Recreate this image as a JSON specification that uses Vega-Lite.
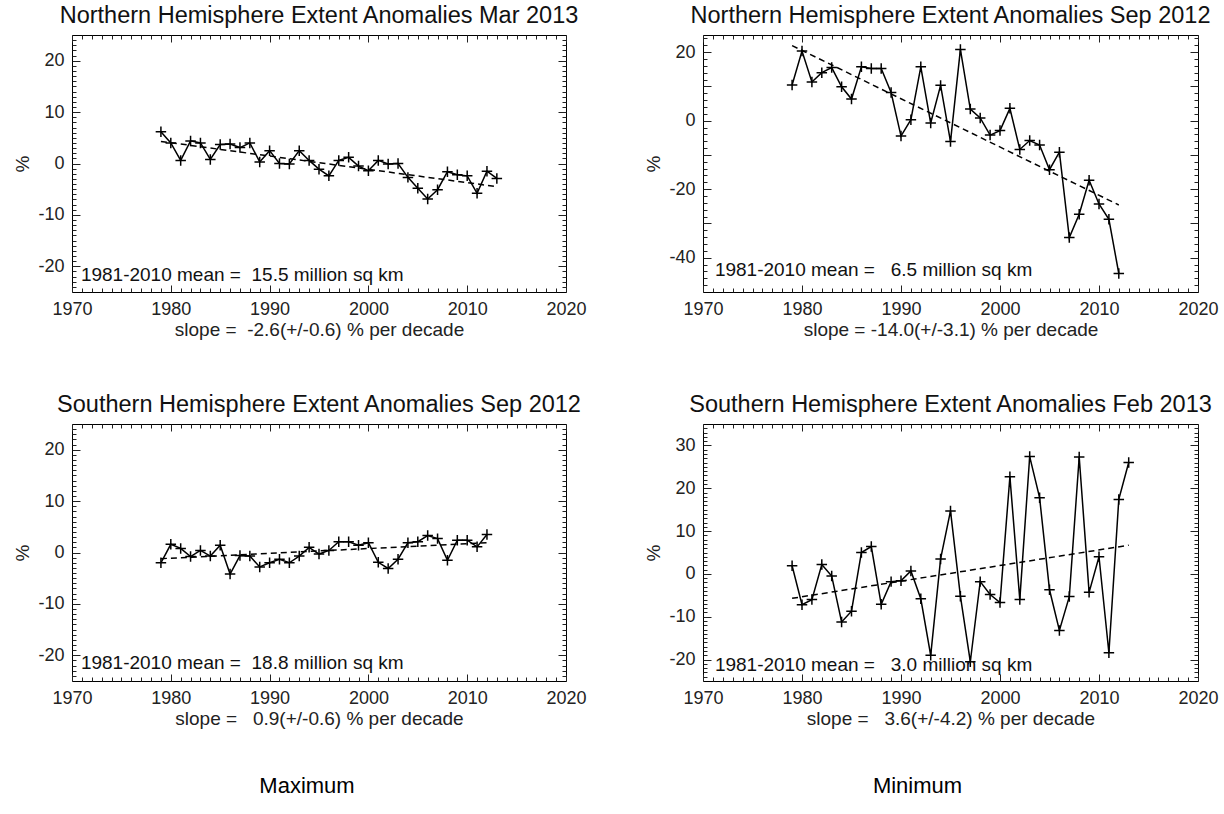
{
  "$schema": "https://vega.github.io/schema/vega-lite/v6.json",
  "background": "white",
  "padding": {"left": 13, "top": 3, "right": 5, "bottom": 5},
  "datasets": {
    "tl": [
      {"year": 1979, "pct": 6.2}, {"year": 1980, "pct": 4.0}, {"year": 1981, "pct": 0.6}, {"year": 1982, "pct": 4.4},
      {"year": 1983, "pct": 4.0}, {"year": 1984, "pct": 0.8}, {"year": 1985, "pct": 3.7}, {"year": 1986, "pct": 3.8},
      {"year": 1987, "pct": 3.1}, {"year": 1988, "pct": 4.0}, {"year": 1989, "pct": 0.3}, {"year": 1990, "pct": 2.5},
      {"year": 1991, "pct": 0.0}, {"year": 1992, "pct": -0.1}, {"year": 1993, "pct": 2.5}, {"year": 1994, "pct": 0.6},
      {"year": 1995, "pct": -1.1}, {"year": 1996, "pct": -2.4}, {"year": 1997, "pct": 0.6}, {"year": 1998, "pct": 1.2},
      {"year": 1999, "pct": -0.5}, {"year": 2000, "pct": -1.4}, {"year": 2001, "pct": 0.6}, {"year": 2002, "pct": -0.1},
      {"year": 2003, "pct": 0.0}, {"year": 2004, "pct": -2.7}, {"year": 2005, "pct": -4.8}, {"year": 2006, "pct": -6.9},
      {"year": 2007, "pct": -5.1}, {"year": 2008, "pct": -1.6}, {"year": 2009, "pct": -2.2}, {"year": 2010, "pct": -2.4},
      {"year": 2011, "pct": -5.8}, {"year": 2012, "pct": -1.5}, {"year": 2013, "pct": -2.9}
    ],
    "tl_trend": [{"year": 1979, "pct": 4.3}, {"year": 2013, "pct": -4.5}],
    "tl_note": [{"year": 1970.9, "pct": -21.7, "label": "1981-2010 mean = \u00a015.5 million sq km"}],
    "tr": [
      {"year": 1979, "pct": 10.4}, {"year": 1980, "pct": 20.3}, {"year": 1981, "pct": 11.3}, {"year": 1982, "pct": 14.0},
      {"year": 1983, "pct": 15.5}, {"year": 1984, "pct": 9.9}, {"year": 1985, "pct": 6.3}, {"year": 1986, "pct": 15.7},
      {"year": 1987, "pct": 15.2}, {"year": 1988, "pct": 15.2}, {"year": 1989, "pct": 8.2}, {"year": 1990, "pct": -4.5},
      {"year": 1991, "pct": 0.3}, {"year": 1992, "pct": 15.7}, {"year": 1993, "pct": -0.7}, {"year": 1994, "pct": 10.3},
      {"year": 1995, "pct": -6.1}, {"year": 1996, "pct": 20.8}, {"year": 1997, "pct": 3.4}, {"year": 1998, "pct": 0.8},
      {"year": 1999, "pct": -4.2}, {"year": 2000, "pct": -2.9}, {"year": 2001, "pct": 3.6}, {"year": 2002, "pct": -8.4},
      {"year": 2003, "pct": -5.8}, {"year": 2004, "pct": -7.1}, {"year": 2005, "pct": -14.3}, {"year": 2006, "pct": -9.2},
      {"year": 2007, "pct": -34.1}, {"year": 2008, "pct": -27.3}, {"year": 2009, "pct": -17.4}, {"year": 2010, "pct": -24.3},
      {"year": 2011, "pct": -28.8}, {"year": 2012, "pct": -44.6}
    ],
    "tr_trend": [{"year": 1979, "pct": 21.9}, {"year": 2012, "pct": -24.6}],
    "tr_note": [{"year": 1971.2, "pct": -43.6, "label": "1981-2010 mean = \u00a0\u00a06.5 million sq km"}],
    "bl": [
      {"year": 1979, "pct": -2.0}, {"year": 1980, "pct": 1.6}, {"year": 1981, "pct": 0.8}, {"year": 1982, "pct": -0.8},
      {"year": 1983, "pct": 0.4}, {"year": 1984, "pct": -0.7}, {"year": 1985, "pct": 1.4}, {"year": 1986, "pct": -4.2},
      {"year": 1987, "pct": -0.6}, {"year": 1988, "pct": -0.7}, {"year": 1989, "pct": -2.8}, {"year": 1990, "pct": -2.0},
      {"year": 1991, "pct": -1.3}, {"year": 1992, "pct": -2.0}, {"year": 1993, "pct": -0.7}, {"year": 1994, "pct": 1.0},
      {"year": 1995, "pct": -0.3}, {"year": 1996, "pct": 0.4}, {"year": 1997, "pct": 2.1}, {"year": 1998, "pct": 2.1},
      {"year": 1999, "pct": 1.4}, {"year": 2000, "pct": 1.9}, {"year": 2001, "pct": -1.9}, {"year": 2002, "pct": -3.1},
      {"year": 2003, "pct": -1.3}, {"year": 2004, "pct": 1.9}, {"year": 2005, "pct": 2.1}, {"year": 2006, "pct": 3.3},
      {"year": 2007, "pct": 2.7}, {"year": 2008, "pct": -1.5}, {"year": 2009, "pct": 2.4}, {"year": 2010, "pct": 2.4},
      {"year": 2011, "pct": 1.1}, {"year": 2012, "pct": 3.5}
    ],
    "bl_trend": [{"year": 1979, "pct": -1.2}, {"year": 2012, "pct": 1.9}],
    "bl_note": [{"year": 1970.9, "pct": -21.5, "label": "1981-2010 mean = \u00a018.8 million sq km"}],
    "br": [
      {"year": 1979, "pct": 1.9}, {"year": 1980, "pct": -7.2}, {"year": 1981, "pct": -6.0}, {"year": 1982, "pct": 2.2},
      {"year": 1983, "pct": -0.5}, {"year": 1984, "pct": -11.2}, {"year": 1985, "pct": -8.7}, {"year": 1986, "pct": 5.0},
      {"year": 1987, "pct": 6.4}, {"year": 1988, "pct": -7.1}, {"year": 1989, "pct": -1.8}, {"year": 1990, "pct": -1.6},
      {"year": 1991, "pct": 0.7}, {"year": 1992, "pct": -5.8}, {"year": 1993, "pct": -19.0}, {"year": 1994, "pct": 3.5},
      {"year": 1995, "pct": 14.7}, {"year": 1996, "pct": -5.2}, {"year": 1997, "pct": -20.5}, {"year": 1998, "pct": -1.8},
      {"year": 1999, "pct": -4.8}, {"year": 2000, "pct": -6.7}, {"year": 2001, "pct": 22.7}, {"year": 2002, "pct": -6.0},
      {"year": 2003, "pct": 27.4}, {"year": 2004, "pct": 17.8}, {"year": 2005, "pct": -3.7}, {"year": 2006, "pct": -13.2},
      {"year": 2007, "pct": -5.3}, {"year": 2008, "pct": 27.3}, {"year": 2009, "pct": -4.3}, {"year": 2010, "pct": 4.0},
      {"year": 2011, "pct": -18.4}, {"year": 2012, "pct": 17.4}, {"year": 2013, "pct": 26.0}
    ],
    "br_trend": [{"year": 1979, "pct": -5.7}, {"year": 2013, "pct": 6.7}],
    "br_note": [{"year": 1971.2, "pct": -21.2, "label": "1981-2010 mean = \u00a0\u00a03.0 million sq km"}]
  },
  "hconcat": [
    {
      "title": {"text": "Maximum", "orient": "bottom", "anchor": "middle", "fontSize": 22, "offset": 47, "dx": 7, "color": "#000"},
      "spacing": 132,
      "bounds": "flush",
      "vconcat": [
        {
          "width": 494, "height": 257,
          "title": {"text": "Northern Hemisphere Extent Anomalies Mar 2013", "anchor": "middle"},
          "layer": [
            {"data": {"name": "tl"}, "mark": {"type": "line", "color": "black", "strokeWidth": 1.5},
             "encoding": {
               "x": {"field": "year", "type": "quantitative", "scale": {"domain": [1970, 2020], "nice": false, "zero": false},
                     "axis": {"orient": "bottom", "values": [1970, 1980, 1990, 2000, 2010, 2020], "format": "d", "tickSize": -7, "labelPadding": 15, "labelFlush": false, "labelOverlap": false, "title": "slope = \u00a0-2.6(+/-0.6) % per decade", "titlePadding": 2}},
               "y": {"field": "pct", "type": "quantitative", "scale": {"domain": [-25, 25], "nice": false, "zero": false},
                     "axis": {"orient": "left", "values": [-20, -10, 0, 10, 20], "labelExpr": "replace(datum.label, '\u2212', '-')", "tickSize": -8, "labelPadding": 16, "labelFlush": false, "labelOverlap": false, "title": "%", "titlePadding": 5}}}},
            {"data": {"name": "tl"}, "mark": {"type": "point", "shape": "M-1,0L1,0M0,-1L0,1", "filled": false, "color": "black", "size": 110, "strokeWidth": 1.5, "opacity": 1},
             "encoding": {
               "x": {"field": "year", "type": "quantitative", "axis": {"orient": "top", "values": [1970, 1980, 1990, 2000, 2010, 2020], "tickSize": -7, "labels": false, "title": null}},
               "y": {"field": "pct", "type": "quantitative", "axis": {"orient": "right", "values": [-20, -10, 0, 10, 20], "tickSize": -8, "labels": false, "title": null}}}},
            {"data": {"name": "tl_trend"}, "mark": {"type": "line", "color": "black", "strokeWidth": 1.5, "strokeDash": [6, 4]},
             "encoding": {
               "x": {"field": "year", "type": "quantitative", "axis": {"orient": "bottom", "values": [1971,1972,1973,1974,1975,1976,1977,1978,1979,1981,1982,1983,1984,1985,1986,1987,1988,1989,1991,1992,1993,1994,1995,1996,1997,1998,1999,2001,2002,2003,2004,2005,2006,2007,2008,2009,2011,2012,2013,2014,2015,2016,2017,2018,2019], "tickSize": -4, "labels": false, "title": null}},
               "y": {"field": "pct", "type": "quantitative", "axis": {"orient": "left", "values": [-24,-23,-22,-21,-19,-18,-17,-16,-15,-14,-13,-12,-11,-9,-8,-7,-6,-5,-4,-3,-2,-1,1,2,3,4,5,6,7,8,9,11,12,13,14,15,16,17,18,19,21,22,23,24], "tickSize": -4, "labels": false, "title": null}}}},
            {"data": {"name": "tl_note"}, "mark": {"type": "text", "align": "left", "baseline": "middle", "fontSize": 19, "color": "#111"},
             "encoding": {
               "x": {"field": "year", "type": "quantitative", "axis": {"orient": "top", "values": [1971,1972,1973,1974,1975,1976,1977,1978,1979,1981,1982,1983,1984,1985,1986,1987,1988,1989,1991,1992,1993,1994,1995,1996,1997,1998,1999,2001,2002,2003,2004,2005,2006,2007,2008,2009,2011,2012,2013,2014,2015,2016,2017,2018,2019], "tickSize": -4, "labels": false, "title": null}},
               "y": {"field": "pct", "type": "quantitative", "axis": {"orient": "right", "values": [-24,-23,-22,-21,-19,-18,-17,-16,-15,-14,-13,-12,-11,-9,-8,-7,-6,-5,-4,-3,-2,-1,1,2,3,4,5,6,7,8,9,11,12,13,14,15,16,17,18,19,21,22,23,24], "tickSize": -4, "labels": false, "title": null}},
               "text": {"field": "label", "type": "nominal"}}}
          ],
          "resolve": {"axis": {"x": "independent", "y": "independent"}}
        },
        {
          "width": 494, "height": 257,
          "title": {"text": "Southern Hemisphere Extent Anomalies Sep 2012", "anchor": "middle"},
          "layer": [
            {"data": {"name": "bl"}, "mark": {"type": "line", "color": "black", "strokeWidth": 1.5},
             "encoding": {
               "x": {"field": "year", "type": "quantitative", "scale": {"domain": [1970, 2020], "nice": false, "zero": false},
                     "axis": {"orient": "bottom", "values": [1970, 1980, 1990, 2000, 2010, 2020], "format": "d", "tickSize": -7, "labelPadding": 15, "labelFlush": false, "labelOverlap": false, "title": "slope = \u00a0\u00a00.9(+/-0.6) % per decade", "titlePadding": 2}},
               "y": {"field": "pct", "type": "quantitative", "scale": {"domain": [-25, 25], "nice": false, "zero": false},
                     "axis": {"orient": "left", "values": [-20, -10, 0, 10, 20], "labelExpr": "replace(datum.label, '\u2212', '-')", "tickSize": -8, "labelPadding": 16, "labelFlush": false, "labelOverlap": false, "title": "%", "titlePadding": 5}}}},
            {"data": {"name": "bl"}, "mark": {"type": "point", "shape": "M-1,0L1,0M0,-1L0,1", "filled": false, "color": "black", "size": 110, "strokeWidth": 1.5, "opacity": 1},
             "encoding": {
               "x": {"field": "year", "type": "quantitative", "axis": {"orient": "top", "values": [1970, 1980, 1990, 2000, 2010, 2020], "tickSize": -7, "labels": false, "title": null}},
               "y": {"field": "pct", "type": "quantitative", "axis": {"orient": "right", "values": [-20, -10, 0, 10, 20], "tickSize": -8, "labels": false, "title": null}}}},
            {"data": {"name": "bl_trend"}, "mark": {"type": "line", "color": "black", "strokeWidth": 1.5, "strokeDash": [6, 4]},
             "encoding": {
               "x": {"field": "year", "type": "quantitative", "axis": {"orient": "bottom", "values": [1971,1972,1973,1974,1975,1976,1977,1978,1979,1981,1982,1983,1984,1985,1986,1987,1988,1989,1991,1992,1993,1994,1995,1996,1997,1998,1999,2001,2002,2003,2004,2005,2006,2007,2008,2009,2011,2012,2013,2014,2015,2016,2017,2018,2019], "tickSize": -4, "labels": false, "title": null}},
               "y": {"field": "pct", "type": "quantitative", "axis": {"orient": "left", "values": [-24,-23,-22,-21,-19,-18,-17,-16,-15,-14,-13,-12,-11,-9,-8,-7,-6,-5,-4,-3,-2,-1,1,2,3,4,5,6,7,8,9,11,12,13,14,15,16,17,18,19,21,22,23,24], "tickSize": -4, "labels": false, "title": null}}}},
            {"data": {"name": "bl_note"}, "mark": {"type": "text", "align": "left", "baseline": "middle", "fontSize": 19, "color": "#111"},
             "encoding": {
               "x": {"field": "year", "type": "quantitative", "axis": {"orient": "top", "values": [1971,1972,1973,1974,1975,1976,1977,1978,1979,1981,1982,1983,1984,1985,1986,1987,1988,1989,1991,1992,1993,1994,1995,1996,1997,1998,1999,2001,2002,2003,2004,2005,2006,2007,2008,2009,2011,2012,2013,2014,2015,2016,2017,2018,2019], "tickSize": -4, "labels": false, "title": null}},
               "y": {"field": "pct", "type": "quantitative", "axis": {"orient": "right", "values": [-24,-23,-22,-21,-19,-18,-17,-16,-15,-14,-13,-12,-11,-9,-8,-7,-6,-5,-4,-3,-2,-1,1,2,3,4,5,6,7,8,9,11,12,13,14,15,16,17,18,19,21,22,23,24], "tickSize": -4, "labels": false, "title": null}},
               "text": {"field": "label", "type": "nominal"}}}
          ],
          "resolve": {"axis": {"x": "independent", "y": "independent"}}
        }
      ]
    },
    {
      "title": {"text": "Minimum", "orient": "bottom", "anchor": "middle", "fontSize": 22, "offset": 47, "dx": -14, "color": "#000"},
      "spacing": 132,
      "bounds": "flush",
      "vconcat": [
        {
          "width": 495, "height": 257,
          "title": {"text": "Northern Hemisphere Extent Anomalies Sep 2012", "anchor": "middle"},
          "layer": [
            {"data": {"name": "tr"}, "mark": {"type": "line", "color": "black", "strokeWidth": 1.5},
             "encoding": {
               "x": {"field": "year", "type": "quantitative", "scale": {"domain": [1970, 2020], "nice": false, "zero": false},
                     "axis": {"orient": "bottom", "values": [1970, 1980, 1990, 2000, 2010, 2020], "format": "d", "tickSize": -7, "labelPadding": 15, "labelFlush": false, "labelOverlap": false, "title": "slope = -14.0(+/-3.1) % per decade", "titlePadding": 2}},
               "y": {"field": "pct", "type": "quantitative", "scale": {"domain": [-50, 25], "nice": false, "zero": false},
                     "axis": {"orient": "left", "values": [-40, -30, -20, -10, 0, 10, 20], "labelExpr": "datum.value % 20 == 0 ? replace(datum.label, '\u2212', '-') : ''", "tickSize": -8, "labelPadding": 16, "labelFlush": false, "labelOverlap": false, "title": "%", "titlePadding": 5}}}},
            {"data": {"name": "tr"}, "mark": {"type": "point", "shape": "M-1,0L1,0M0,-1L0,1", "filled": false, "color": "black", "size": 110, "strokeWidth": 1.5, "opacity": 1},
             "encoding": {
               "x": {"field": "year", "type": "quantitative", "axis": {"orient": "top", "values": [1970, 1980, 1990, 2000, 2010, 2020], "tickSize": -7, "labels": false, "title": null}},
               "y": {"field": "pct", "type": "quantitative", "axis": {"orient": "right", "values": [-40, -30, -20, -10, 0, 10, 20], "tickSize": -8, "labels": false, "title": null}}}},
            {"data": {"name": "tr_trend"}, "mark": {"type": "line", "color": "black", "strokeWidth": 1.5, "strokeDash": [6, 4]},
             "encoding": {
               "x": {"field": "year", "type": "quantitative", "axis": {"orient": "bottom", "values": [1971,1972,1973,1974,1975,1976,1977,1978,1979,1981,1982,1983,1984,1985,1986,1987,1988,1989,1991,1992,1993,1994,1995,1996,1997,1998,1999,2001,2002,2003,2004,2005,2006,2007,2008,2009,2011,2012,2013,2014,2015,2016,2017,2018,2019], "tickSize": -4, "labels": false, "title": null}},
               "y": {"field": "pct", "type": "quantitative", "axis": {"orient": "left", "values": [-48,-46,-44,-42,-38,-36,-34,-32,-28,-26,-24,-22,-18,-16,-14,-12,-8,-6,-4,-2,2,4,6,8,12,14,16,18,22,24], "tickSize": -4, "labels": false, "title": null}}}},
            {"data": {"name": "tr_note"}, "mark": {"type": "text", "align": "left", "baseline": "middle", "fontSize": 19, "color": "#111"},
             "encoding": {
               "x": {"field": "year", "type": "quantitative", "axis": {"orient": "top", "values": [1971,1972,1973,1974,1975,1976,1977,1978,1979,1981,1982,1983,1984,1985,1986,1987,1988,1989,1991,1992,1993,1994,1995,1996,1997,1998,1999,2001,2002,2003,2004,2005,2006,2007,2008,2009,2011,2012,2013,2014,2015,2016,2017,2018,2019], "tickSize": -4, "labels": false, "title": null}},
               "y": {"field": "pct", "type": "quantitative", "axis": {"orient": "right", "values": [-48,-46,-44,-42,-38,-36,-34,-32,-28,-26,-24,-22,-18,-16,-14,-12,-8,-6,-4,-2,2,4,6,8,12,14,16,18,22,24], "tickSize": -4, "labels": false, "title": null}},
               "text": {"field": "label", "type": "nominal"}}}
          ],
          "resolve": {"axis": {"x": "independent", "y": "independent"}}
        },
        {
          "width": 495, "height": 257,
          "title": {"text": "Southern Hemisphere Extent Anomalies Feb 2013", "anchor": "middle"},
          "layer": [
            {"data": {"name": "br"}, "mark": {"type": "line", "color": "black", "strokeWidth": 1.5},
             "encoding": {
               "x": {"field": "year", "type": "quantitative", "scale": {"domain": [1970, 2020], "nice": false, "zero": false},
                     "axis": {"orient": "bottom", "values": [1970, 1980, 1990, 2000, 2010, 2020], "format": "d", "tickSize": -7, "labelPadding": 15, "labelFlush": false, "labelOverlap": false, "title": "slope = \u00a0\u00a03.6(+/-4.2) % per decade", "titlePadding": 2}},
               "y": {"field": "pct", "type": "quantitative", "scale": {"domain": [-25, 35], "nice": false, "zero": false},
                     "axis": {"orient": "left", "values": [-20, -10, 0, 10, 20, 30], "labelExpr": "replace(datum.label, '\u2212', '-')", "tickSize": -8, "labelPadding": 16, "labelFlush": false, "labelOverlap": false, "title": "%", "titlePadding": 5}}}},
            {"data": {"name": "br"}, "mark": {"type": "point", "shape": "M-1,0L1,0M0,-1L0,1", "filled": false, "color": "black", "size": 110, "strokeWidth": 1.5, "opacity": 1},
             "encoding": {
               "x": {"field": "year", "type": "quantitative", "axis": {"orient": "top", "values": [1970, 1980, 1990, 2000, 2010, 2020], "tickSize": -7, "labels": false, "title": null}},
               "y": {"field": "pct", "type": "quantitative", "axis": {"orient": "right", "values": [-20, -10, 0, 10, 20, 30], "tickSize": -8, "labels": false, "title": null}}}},
            {"data": {"name": "br_trend"}, "mark": {"type": "line", "color": "black", "strokeWidth": 1.5, "strokeDash": [6, 4]},
             "encoding": {
               "x": {"field": "year", "type": "quantitative", "axis": {"orient": "bottom", "values": [1971,1972,1973,1974,1975,1976,1977,1978,1979,1981,1982,1983,1984,1985,1986,1987,1988,1989,1991,1992,1993,1994,1995,1996,1997,1998,1999,2001,2002,2003,2004,2005,2006,2007,2008,2009,2011,2012,2013,2014,2015,2016,2017,2018,2019], "tickSize": -4, "labels": false, "title": null}},
               "y": {"field": "pct", "type": "quantitative", "axis": {"orient": "left", "values": [-24,-23,-22,-21,-19,-18,-17,-16,-15,-14,-13,-12,-11,-9,-8,-7,-6,-5,-4,-3,-2,-1,1,2,3,4,5,6,7,8,9,11,12,13,14,15,16,17,18,19,21,22,23,24,25,26,27,28,29,31,32,33,34], "tickSize": -4, "labels": false, "title": null}}}},
            {"data": {"name": "br_note"}, "mark": {"type": "text", "align": "left", "baseline": "middle", "fontSize": 19, "color": "#111"},
             "encoding": {
               "x": {"field": "year", "type": "quantitative", "axis": {"orient": "top", "values": [1971,1972,1973,1974,1975,1976,1977,1978,1979,1981,1982,1983,1984,1985,1986,1987,1988,1989,1991,1992,1993,1994,1995,1996,1997,1998,1999,2001,2002,2003,2004,2005,2006,2007,2008,2009,2011,2012,2013,2014,2015,2016,2017,2018,2019], "tickSize": -4, "labels": false, "title": null}},
               "y": {"field": "pct", "type": "quantitative", "axis": {"orient": "right", "values": [-24,-23,-22,-21,-19,-18,-17,-16,-15,-14,-13,-12,-11,-9,-8,-7,-6,-5,-4,-3,-2,-1,1,2,3,4,5,6,7,8,9,11,12,13,14,15,16,17,18,19,21,22,23,24,25,26,27,28,29,31,32,33,34], "tickSize": -4, "labels": false, "title": null}},
               "text": {"field": "label", "type": "nominal"}}}
          ],
          "resolve": {"axis": {"x": "independent", "y": "independent"}}
        }
      ]
    }
  ],
  "spacing": 57,
  "config": {
    "font": "Liberation Sans",
    "view": {"stroke": "black", "strokeWidth": 1},
    "axis": {"domain": false, "grid": false, "tickColor": "#222", "tickWidth": 1, "labelFont": "Liberation Sans", "labelFontSize": 18, "labelColor": "#222", "titleFont": "Liberation Sans", "titleFontSize": 19, "titleFontWeight": "normal", "titleColor": "#222"},
    "title": {"font": "Liberation Sans", "fontSize": 23.5, "fontWeight": "normal", "color": "#111", "offset": 7},
    "text": {"font": "Liberation Sans"}
  }
}
